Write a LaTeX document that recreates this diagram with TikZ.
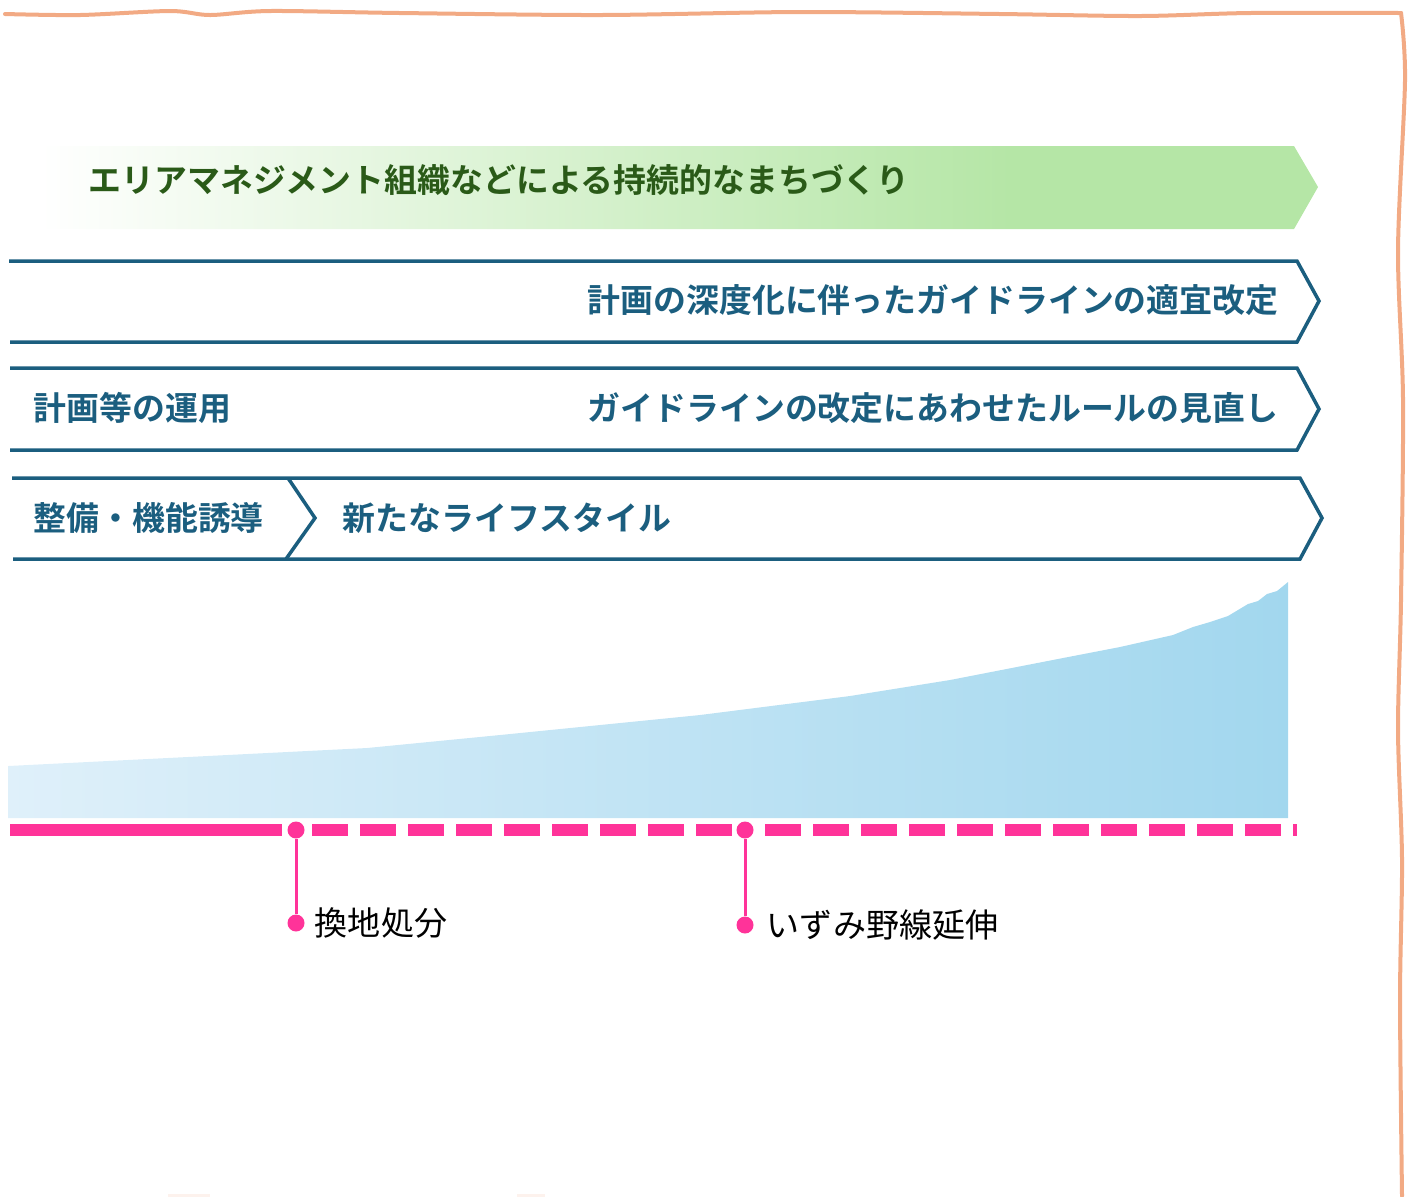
\documentclass[tikz,border=0pt]{standalone}
\usepackage{fontspec}
\setmainfont{Noto Sans CJK JP}[BoldFont={Noto Sans CJK JP Bold}]
\usetikzlibrary{positioning}

\definecolor{bandblue}{HTML}{1B5E7F}
\definecolor{arrowgreen}{HTML}{B5E6A6}
\definecolor{textgreen}{HTML}{2A5A18}
\definecolor{arealeft}{HTML}{DFF0FA}
\definecolor{arearight}{HTML}{A2D7EE}
\definecolor{eventpink}{HTML}{FF3399}
\definecolor{frameorange}{HTML}{F2AA84}

\pgfdeclarehorizontalshading{greenfade}{100bp}{color(0bp)=(white); color(25bp)=(white); color(63bp)=(arrowgreen); color(100bp)=(arrowgreen)}

\tikzset{
  band/.style={draw=bandblue, line width=0.035cm, line join=miter},
  bandtext/.style={font=\bfseries\fontsize{9.35pt}{11pt}\selectfont, text=bandblue, inner sep=0pt},
  eventdot/.style={circle, fill=eventpink, inner sep=0pt, minimum size=0.17cm},
  eventtext/.style={font=\fontsize{9.4pt}{11pt}\selectfont, text=black, inner sep=0pt, anchor=west},
}

\begin{document}
\begin{tikzpicture}[x=0.01cm, y=-0.01cm]
    \useasboundingbox (0,0) rectangle (1410,1196);

    % Hand drawn frame
    \draw[frameorange, line width=0.04cm, line cap=round] plot[smooth] coordinates {
      (5,14) (80,15) (170,11) (210,15) (270,11) (400,13) (600,15) (800,12)
      (1000,14) (1140,16) (1250,13) (1401,13)};
    \draw[frameorange, line width=0.04cm, line cap=round] plot[smooth] coordinates {
      (1401,13) (1405,80) (1398,250) (1403,400) (1401,600) (1398,730)
      (1402,860) (1400,1000) (1402,1196)};
    \draw[frameorange!15, line width=0.03cm] (168,1195) -- (210,1195);
    \draw[frameorange!15, line width=0.03cm] (517,1195) -- (545,1195);

    % Area management arrow
    \shade[shading=greenfade] (40,146) -- (1294,146) -- (1318,187) -- (1294,229) -- (40,229) -- cycle;
    \node[font=\bfseries\fontsize{9.35pt}{11pt}\selectfont, text=textgreen, inner sep=0pt, anchor=west]
      (mgmt) at (88,180) {エリアマネジメント組織などによる持続的なまちづくり};

    % Guideline band
    \draw[band] (9,261) -- (1297,261) -- (1319,301) -- (1297,342) -- (10,342);
    \node[bandtext, anchor=east] (guide) at (1279,300) {計画の深度化に伴ったガイドラインの適宜改定};

    % Rule band
    \draw[band] (10,368) -- (1297,368) -- (1319,409) -- (1297,450) -- (10,450);
    \node[bandtext, anchor=west] (operate) at (33,408) {計画等の運用};
    \node[bandtext, anchor=east] (rules) at (1279,408) {ガイドラインの改定にあわせたルールの見直し};

    % Lifestyle band
    \draw[band] (12,478) -- (1300,478) -- (1322,518) -- (1300,559) -- (13,559);
    \draw[band] (288,478) -- (315,518) -- (286,559);
    \node[bandtext, anchor=west] (develop) at (33,518) {整備・機能誘導};
    \node[bandtext, anchor=west] (life) at (342,518) {新たなライフスタイル};

    % Growth area
    \shade[left color=arealeft, right color=arearight]
      (8,818) -- (8,766) -- (367,748) -- (500,735) -- (700,715) -- (850,696)
      -- (900,688) -- (950,680) -- (1063,658) -- (1120,647) -- (1173,635)
      -- (1193,627) -- (1210,622) -- (1228,616) -- (1248,604) -- (1258,601)
      -- (1267,594) -- (1277,591) -- (1288,582) -- (1288,818) -- cycle;

    % Timeline
    \draw[eventpink, line width=0.12cm] (10,830) -- (282,830);
    \draw[eventpink, line width=0.12cm, dash pattern=on 0.36cm off 0.12cm] (312,830) -- (732,830);
    \draw[eventpink, line width=0.12cm, dash pattern=on 0.36cm off 0.12cm] (765,830) -- (1297,830);

    % Events
    \node[eventdot] (kanchi) at (296,830) {};
    \node[eventdot] (kanchiend) at (296,923) {};
    \draw[eventpink, line width=0.03cm] (kanchi) -- (kanchiend);
    \node[eventtext, right=0.09cm of kanchiend] (kanchilabel) {換地処分};

    \node[eventdot] (izumino) at (745,830) {};
    \node[eventdot] (izuminoend) at (745,925) {};
    \draw[eventpink, line width=0.03cm] (izumino) -- (izuminoend);
    \node[eventtext, right=0.12cm of izuminoend] (izuminolabel) {いずみ野線延伸};
\end{tikzpicture}
\end{document}
